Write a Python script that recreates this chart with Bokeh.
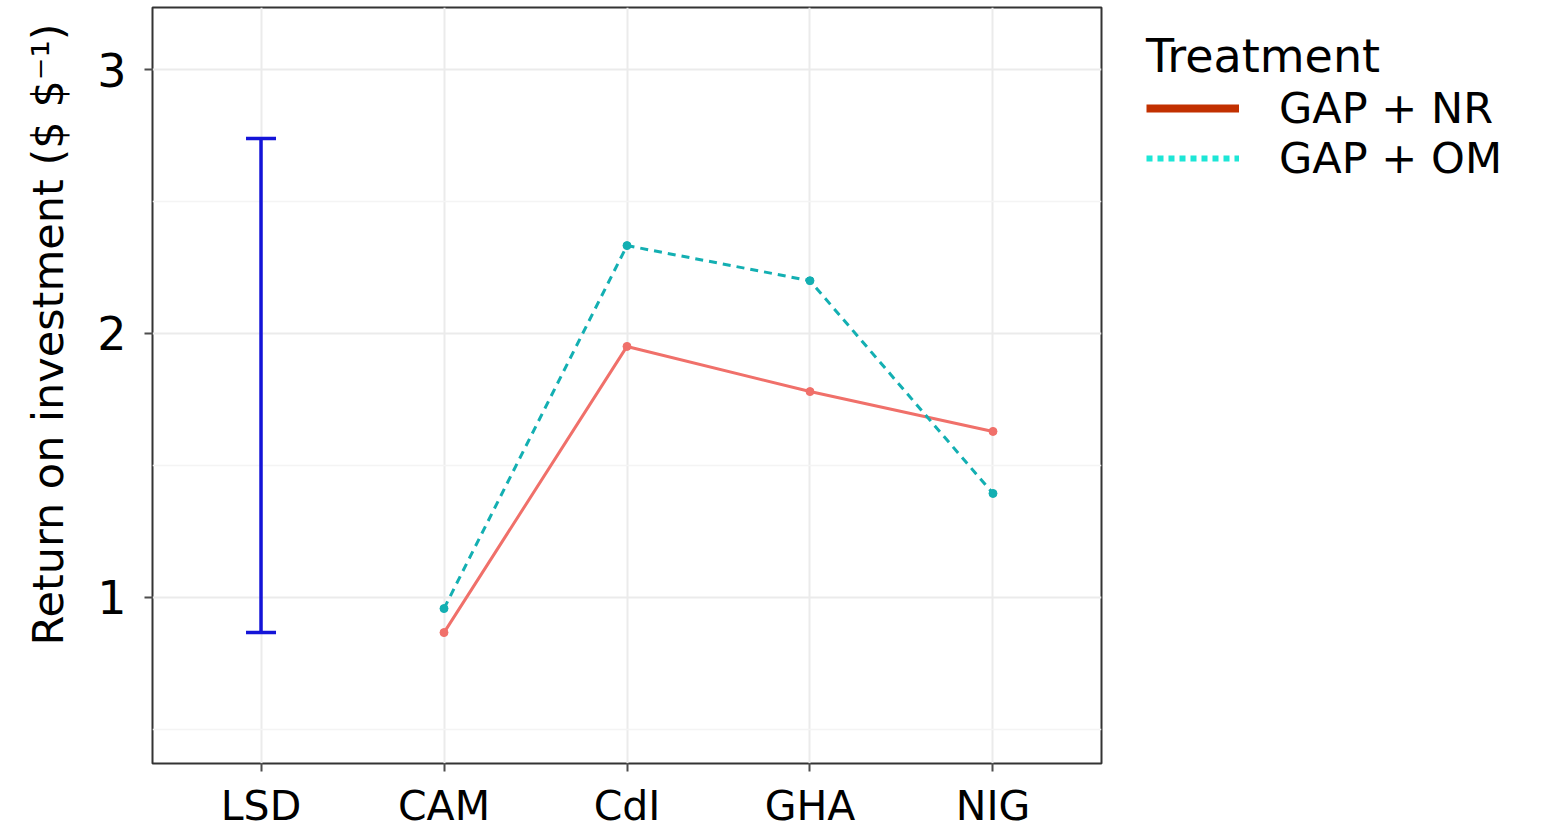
from bokeh.plotting import figure
from bokeh.models import FactorRange, Range1d, FixedTicker, Legend, LegendItem, Title
from bokeh.embed import file_html
from bokeh.resources import INLINE

# Return on investment by country and treatment
categories = ["LSD", "CAM", "CdI", "GHA", "NIG"]
countries = ["CAM", "CdI", "GHA", "NIG"]
gap_nr = [0.867, 1.951, 1.780, 1.629]
gap_om = [0.958, 2.333, 2.200, 1.394]
lsd_low = 0.867
lsd_high = 2.739
y_ticks = [1, 2, 3]
y_minor = [0.5, 1.5, 2.5]
y_title = "Return on investment ($ $\u207b\u00b9)"

FONT = "DejaVu Sans"

p = figure(
    x_range=FactorRange(*categories, range_padding=0.093, range_padding_units="absolute"),
    y_range=Range1d(0.371, 3.235),
    frame_width=949, frame_height=756,
    min_border_left=152, min_border_top=7, min_border_bottom=60, min_border_right=440,
    output_backend="svg", toolbar_location=None,
    background_fill_color="white", border_fill_color="white",
)

# panel border and grid, theme_bw style
p.outline_line_color = "#333333"
p.outline_line_width = 2
p.xgrid.grid_line_color = "#ebebeb"
p.xgrid.grid_line_width = 2
p.ygrid.grid_line_color = "#ebebeb"
p.ygrid.grid_line_width = 2
p.ygrid.minor_grid_line_color = "#f4f4f4"
p.ygrid.minor_grid_line_width = 1.5

p.yaxis.ticker = FixedTicker(ticks=y_ticks, minor_ticks=y_minor)
for ax in (p.xaxis[0], p.yaxis[0]):
    ax.axis_line_color = None
    ax.major_tick_line_color = "#4d4d4d"
    ax.major_tick_line_width = 2
    ax.major_tick_out = 8
    ax.major_tick_in = 0
    ax.minor_tick_line_color = None
    ax.major_label_text_font = FONT
    ax.major_label_text_color = "black"

p.xaxis.major_label_text_font_size = "41px"
p.xaxis.major_label_standoff = 10
p.yaxis.major_label_text_font_size = "46px"
p.yaxis.major_label_standoff = 18

# y title starting a fixed distance above the panel bottom
p.add_layout(Title(
    text=y_title, align="left", offset=118, vertical_align="top", standoff=40,
    text_font=FONT, text_font_size="43px", text_font_style="normal", text_color="black",
), "left")

# LSD bar
p.segment(x0=["LSD"], y0=[lsd_low], x1=["LSD"], y1=[lsd_high], line_color="#1414d8", line_width=3.5)
p.scatter(x=["LSD", "LSD"], y=[lsd_low, lsd_high], marker="dash", size=30,
          line_color="#1414d8", line_width=3.5)

# treatment lines
p.line(x=countries, y=gap_nr, line_color="#F0706A", line_width=3)
p.scatter(x=countries, y=gap_nr, size=8, fill_color="#F0706A", line_color="#F0706A")
p.line(x=countries, y=gap_om, line_color="#13AFB2", line_width=3, line_dash="8 6")
p.scatter(x=countries, y=gap_om, size=8, fill_color="#13AFB2", line_color="#13AFB2")

# legend keys (drawn below the visible y range, only their legend swatches show)
key_y = [-10, -10]
key_nr = p.line(x=countries[:2], y=key_y, line_color="#C23000", line_width=8)
key_om = p.line(x=countries[:2], y=key_y, line_color="#1DE6D6", line_width=6, line_dash="6 5")

legend = Legend(
    items=[LegendItem(label="GAP + NR", renderers=[key_nr]),
           LegendItem(label="GAP + OM", renderers=[key_om])],
    title="Treatment",
    location=(45, 580),
    orientation="vertical",
)
legend.title_text_font = FONT
legend.title_text_font_size = "46px"
legend.title_text_font_style = "normal"
legend.title_text_color = "black"
legend.title_standoff = 0
legend.label_text_font = FONT
legend.label_text_font_size = "43px"
legend.label_text_color = "black"
legend.glyph_width = 93
legend.glyph_height = 40
legend.label_standoff = 40
legend.spacing = 0
legend.padding = 0
legend.margin = 0
legend.border_line_color = None
legend.background_fill_color = None
p.add_layout(legend, "right")

open("out.html", "w").write(file_html(p, INLINE))
